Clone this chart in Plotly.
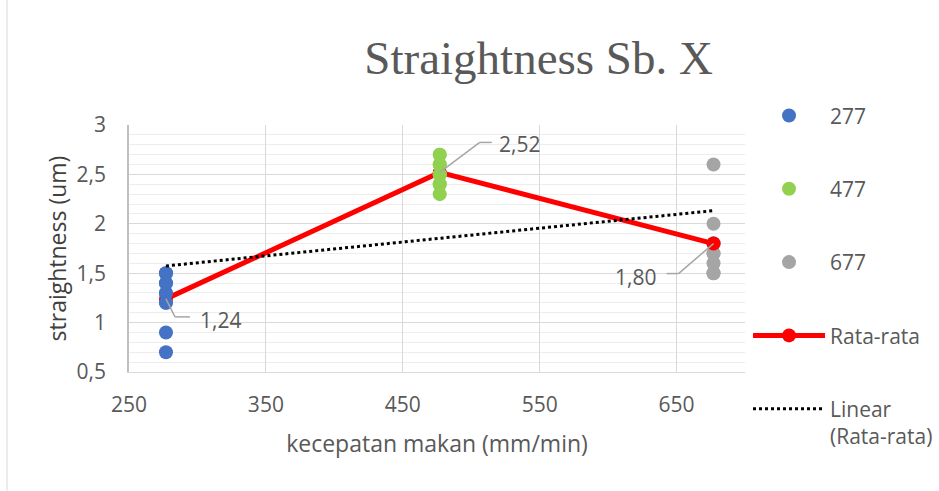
import numpy as np
import plotly.graph_objects as go

# ---- data ----
speeds = [277, 477, 677]
series_names = ["277", "477", "677"]
vals_277 = [1.5, 1.5, 1.4, 1.4, 1.3, 1.3, 1.2, 1.2, 0.9, 0.7]
vals_477 = [2.7, 2.7, 2.6, 2.6, 2.5, 2.5, 2.5, 2.4, 2.4, 2.3]
vals_677 = [2.6, 2.0, 1.8, 1.8, 1.8, 1.7, 1.7, 1.6, 1.5, 1.5]
averages = [1.24, 2.52, 1.80]
avg_name = "Rata-rata"
trend_name = "Linear<br>(Rata-rata)"
title_text = "Straightness Sb. X"
x_title = "kecepatan makan (mm/min)"
y_title = "straightness (um)"

colors = {"277": "#4472C4", "477": "#92D050", "677": "#A5A5A5"}
TXT = "#595959"
FONT = "Open Sans"

series_vals = {"277": vals_277, "477": vals_477, "677": vals_677}

fig = go.Figure()

def add_group(name, rank):
    idx = series_names.index(name)
    ys = series_vals[name]
    fig.add_trace(go.Scatter(
        x=[speeds[idx]] * len(ys), y=ys, mode="markers", name=name,
        marker=dict(color=colors[name], size=14, line=dict(width=0)),
        legendgroup=name, legendrank=rank))

# drawing order: 677, average line, 277, 477, trend
add_group("677", 3)
fig.add_trace(go.Scatter(
    x=speeds, y=averages, mode="lines+markers", name=avg_name,
    line=dict(color="#FF0000", width=5),
    marker=dict(color="#FF0000", size=14),
    legendgroup="avg", legendrank=4))
add_group("277", 1)
add_group("477", 2)

slope, intercept = np.polyfit(speeds, averages, 1)
tx = [speeds[0], speeds[-1]]
ty = [slope * v + intercept for v in tx]
fig.add_trace(go.Scatter(
    x=tx, y=ty, mode="lines", name=trend_name,
    line=dict(color="black", width=3, dash="dot"),
    legendgroup="trend", legendrank=5))

# data labels with elbow leader lines
label_cfg = [
    ([(0, 0), (9, -18), (24, -18)], 32, -21, "left"),
    ([(0, 0), (40, 30), (52, 30)], 57, 28, "left"),
    ([(0, 0), (-35, -30), (-47, -30)], -56, -33, "right"),
]
shapes = []
annotations = []
for i, (pts, sx, sy, xa) in enumerate(label_cfg):
    for (a, b) in zip(pts[:-1], pts[1:]):
        shapes.append(dict(
            type="line", xref="x", yref="y",
            xsizemode="pixel", ysizemode="pixel",
            xanchor=speeds[i], yanchor=averages[i],
            x0=a[0], y0=a[1], x1=b[0], y1=b[1],
            line=dict(color="#A6A6A6", width=1.5), layer="above"))
    annotations.append(dict(
        x=speeds[i], y=averages[i], xref="x", yref="y",
        text=f"{averages[i]:.2f}".replace(".", ","),
        showarrow=False, xanchor=xa, yanchor="middle",
        xshift=sx, yshift=sy,
        font=dict(family=FONT, size=21, color=TXT)))

# y axis title as annotation for exact placement
annotations.append(dict(
    x=-0.117, y=0.5, xref="paper", yref="paper", text=y_title,
    textangle=-90, showarrow=False, xanchor="center", yanchor="middle",
    font=dict(family=FONT, size=23, color="#404040")))

# chart outer frame (left edge)
shapes.append(dict(type="line", xref="paper", yref="paper",
                   x0=-0.198, x1=-0.198, y0=-0.48, y1=1.6,
                   line=dict(color="#D9D9D9", width=1)))

fig.update_layout(
    width=939, height=491,
    margin=dict(l=129, r=194, t=125, b=119, autoexpand=False),
    paper_bgcolor="white", plot_bgcolor="white",
    separators=",.",
    font=dict(family=FONT, size=21, color=TXT),
    title=dict(text=title_text, x=0.665, xref="paper", xanchor="center",
               y=0.882, yref="container", yanchor="middle",
               font=dict(family="Liberation Serif", size=47, color=TXT)),
    showlegend=True,
    legend=dict(x=1.0049, xanchor="left", y=1.12, yanchor="top",
                font=dict(family=FONT, size=21, color=TXT),
                tracegroupgap=43, itemwidth=72, valign="top",
                maxheight=480,
                bgcolor="rgba(0,0,0,0)"),
    shapes=shapes, annotations=annotations,
)

fig.update_xaxes(
    range=[250, 700], tick0=250, dtick=100, showgrid=True,
    gridcolor="#D9D9D9", gridwidth=1, zeroline=False,
    showline=True, linecolor="#D9D9D9", ticks="",
    ticklabelstandoff=14,
    tickfont=dict(family=FONT, size=21, color=TXT),
    title=dict(text=x_title, standoff=18,
               font=dict(family=FONT, size=23, color=TXT)))
fig.update_yaxes(
    range=[0.5, 3], tick0=0.5, dtick=0.5, showgrid=True,
    gridcolor="#D9D9D9", gridwidth=1, zeroline=False,
    showline=True, linecolor="#BFBFBF", linewidth=1.5, ticks="",
    ticklabelstandoff=17,
    minor=dict(dtick=0.1, showgrid=True, gridcolor="#EDEDED", gridwidth=1),
    tickfont=dict(family=FONT, size=21, color=TXT))

fig.write_html("out.html",
               config={"displayModeBar": False},
               post_script="document.body.style.margin='0';document.body.style.overflow='hidden';")
